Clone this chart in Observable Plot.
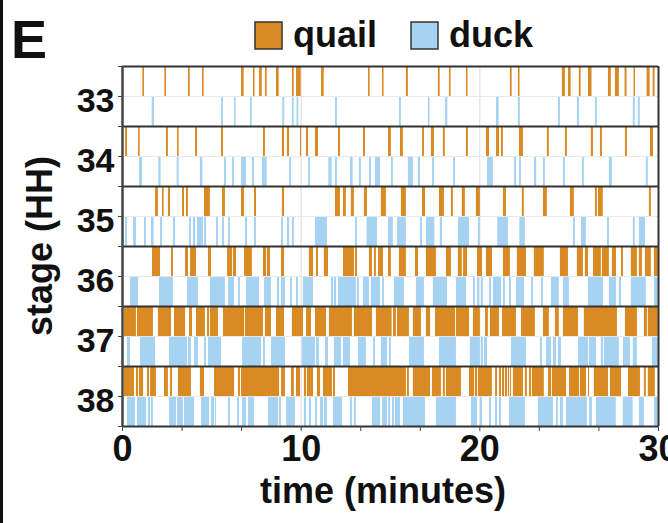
<!DOCTYPE html>
<html><head><meta charset="utf-8">
<script src="https://cdn.jsdelivr.net/npm/d3@7"></script>
<script src="https://cdn.jsdelivr.net/npm/@observablehq/plot@0.6"></script>
<style>
html,body{margin:0;padding:0;background:#fff;}
#chart{width:668px;height:523px;overflow:hidden;}
</style></head>
<body><div id="chart"></div>
<script>
const stages = ["33","34","35","36","37","38"];
const species = ["quail","duck"];
const colors = ["#DA8A22","#A7D3F2"];
const xTickLabels = [0,10,20,30];

const quail33 = [[1.14,1.23],[2.37,2.46],[3.69,3.79],[4.48,4.57],[6.66,6.81],[7.33,7.42],[7.67,7.82],[8.00,8.10],[8.62,8.77],[9.51,9.61],[9.74,10.00],[11.14,11.29],[13.77,13.86],[14.55,14.64],[15.89,16.00],[17.68,17.78],[18.30,18.39],[19.25,19.34],[21.71,21.81],[22.16,22.25],[24.62,24.79],[24.96,25.11],[25.57,25.67],[26.08,26.28],[27.20,27.36],[27.59,27.81],[28.13,28.24],[28.63,28.71],[29.36,29.53],[29.70,29.81]];
const duck33 = [[1.66,1.79],[5.54,5.65],[6.27,6.36],[7.16,7.26],[8.97,9.08],[9.51,9.61],[9.77,9.87],[11.92,12.03],[15.50,15.61],[17.12,17.21],[18.08,18.21],[20.93,21.08],[22.16,22.27],[24.40,24.51],[25.46,25.58],[26.47,26.58],[28.59,28.70],[28.87,28.98]];
const quail34 = [[0.17,0.28],[0.90,0.99],[2.46,2.57],[3.08,3.17],[4.09,4.20],[5.54,5.65],[7.89,8.00],[8.95,9.07],[9.23,9.35],[9.96,10.02],[10.30,10.41],[10.80,10.97],[12.09,12.20],[13.49,13.60],[14.89,15.05],[15.56,15.72],[16.79,16.90],[17.29,17.46],[17.96,18.07],[19.25,19.36],[20.37,20.54],[20.93,21.10],[21.21,21.32],[22.22,22.44],[23.78,23.89],[24.79,24.90],[26.24,26.36],[26.75,26.86],[28.15,28.26],[29.55,29.72]];
const duck34 = [[0.95,1.12],[2.03,2.16],[3.06,3.17],[4.36,4.50],[5.71,5.82],[6.16,6.27],[6.66,6.94],[7.27,7.39],[7.83,8.10],[9.35,9.46],[10.41,10.52],[11.55,11.73],[11.92,12.03],[12.76,12.91],[13.26,13.37],[13.82,13.93],[14.16,14.44],[15.05,15.16],[16.00,16.28],[16.56,16.68],[17.35,17.46],[18.53,18.64],[20.43,20.76],[21.94,22.05],[22.22,22.33],[23.06,23.18],[23.56,23.67],[24.68,24.79],[25.74,25.85],[27.25,27.42],[29.32,29.43]];
const quail35 = [[1.85,2.01],[2.24,2.33],[2.57,2.69],[3.36,3.47],[3.58,3.69],[4.59,4.92],[5.60,5.76],[6.66,6.83],[7.39,7.50],[8.95,9.07],[11.92,12.20],[12.37,12.53],[12.81,12.98],[13.54,13.71],[14.49,14.77],[15.61,15.89],[16.79,16.96],[17.74,18.02],[18.41,18.52],[19.02,19.19],[19.81,20.03],[21.32,21.49],[22.38,22.49],[23.56,23.78],[25.07,25.29],[26.47,26.58],[26.64,26.91],[29.49,29.60]];
const duck35 = [[0.17,0.28],[0.62,0.78],[1.23,1.34],[1.62,1.77],[2.13,2.24],[2.85,2.97],[3.75,3.86],[3.97,4.09],[4.20,4.53],[4.59,4.70],[5.26,5.37],[5.60,5.71],[5.93,6.04],[6.88,7.00],[7.39,7.50],[8.90,9.01],[9.23,9.35],[9.51,9.62],[10.80,11.47],[13.04,13.15],[13.69,14.27],[14.89,15.16],[15.39,15.89],[16.68,16.79],[17.01,17.48],[17.79,17.91],[18.80,19.42],[19.92,20.03],[21.00,21.60],[22.24,22.55],[25.24,25.35],[25.69,25.96],[27.14,27.26],[28.59,28.70],[28.93,29.27]];
const quail36 = [[1.68,2.13],[2.74,2.85],[3.53,3.69],[3.81,4.14],[4.81,4.98],[5.88,6.16],[6.21,6.38],[6.83,7.27],[7.89,8.06],[8.11,8.28],[8.90,9.07],[10.46,10.69],[10.86,10.97],[11.30,11.53],[12.37,12.98],[13.04,13.15],[13.82,13.99],[14.10,14.21],[14.33,14.61],[14.89,15.05],[15.50,15.89],[16.40,16.57],[17.01,17.57],[18.13,18.41],[18.80,19.02],[19.09,19.31],[19.87,20.15],[20.37,20.71],[21.32,21.71],[22.10,22.61],[23.05,23.61],[24.51,24.96],[25.46,25.80],[25.91,26.08],[26.36,26.80],[26.86,27.25],[27.42,27.65],[27.93,28.04],[28.48,28.82],[28.93,29.10],[29.27,29.60],[29.77,29.99]];
const duck36 = [[0.45,0.90],[2.07,2.85],[3.64,4.25],[4.92,5.76],[5.93,6.27],[6.49,6.60],[6.94,7.67],[7.95,8.34],[8.67,8.79],[8.90,9.12],[9.40,9.51],[9.74,9.85],[10.13,10.69],[11.70,11.81],[11.86,11.98],[12.09,13.09],[13.15,13.26],[13.49,13.82],[13.93,14.44],[14.55,14.66],[15.22,15.78],[16.45,16.90],[17.40,18.19],[18.69,19.25],[19.64,19.75],[19.87,19.98],[20.09,20.20],[20.54,20.65],[20.76,21.21],[21.32,21.43],[21.66,21.77],[22.05,22.50],[22.89,23.00],[23.45,23.56],[24.01,24.45],[24.68,25.01],[26.08,26.92],[27.25,27.65],[27.81,27.93],[28.48,29.32],[29.77,29.99]];
const quail37 = [[0.11,0.78],[0.84,1.73],[2.01,2.74],[2.91,3.53],[3.75,3.92],[4.14,4.64],[4.76,4.87],[4.92,5.37],[5.65,6.83],[6.88,7.89],[8.00,8.34],[8.62,9.07],[9.51,10.13],[10.30,10.58],[10.80,11.42],[11.58,12.87],[12.98,13.99],[14.21,15.09],[15.17,15.33],[15.39,16.06],[16.28,16.73],[17.01,17.24],[17.52,18.64],[18.69,19.42],[19.64,20.03],[20.32,20.48],[20.59,21.10],[21.27,22.05],[22.33,23.11],[23.56,23.89],[24.23,24.45],[24.68,25.52],[25.85,27.70],[28.15,28.82],[29.21,29.38],[29.43,29.99]];
const duck37 = [[0.28,0.45],[1.01,1.85],[2.63,3.64],[3.69,3.86],[4.03,4.25],[4.59,4.70],[4.81,5.54],[6.72,7.78],[7.89,8.00],[8.34,9.12],[10.07,10.80],[10.86,11.02],[11.36,11.53],[11.86,12.26],[12.37,12.76],[13.21,13.65],[14.05,14.16],[14.49,14.83],[14.94,15.05],[16.06,16.90],[17.74,18.69],[19.47,20.03],[20.09,20.20],[20.26,20.43],[21.77,22.61],[23.39,23.50],[23.73,24.01],[24.12,24.29],[24.40,24.57],[25.52,26.08],[26.14,26.53],[26.80,26.92],[26.97,27.81],[28.04,28.43],[28.59,28.82],[29.66,29.99]];
const quail38 = [[0.11,0.67],[0.78,0.90],[0.95,1.18],[1.40,1.51],[1.57,1.90],[2.35,2.57],[2.69,2.80],[3.13,3.86],[4.36,4.59],[5.15,6.27],[6.49,6.60],[6.66,8.79],[8.90,9.12],[9.46,9.62],[9.74,9.96],[10.18,10.30],[10.35,10.69],[10.91,11.08],[11.25,11.75],[11.81,11.92],[12.65,15.89],[15.95,16.06],[16.28,17.24],[17.35,17.85],[17.96,18.07],[18.13,18.97],[19.42,19.70],[19.75,19.87],[19.92,20.70],[20.88,20.99],[21.10,21.21],[21.27,21.38],[21.43,21.55],[21.60,21.66],[21.71,21.77],[21.88,22.44],[22.55,22.66],[22.78,22.89],[22.94,23.61],[23.84,24.01],[24.06,24.85],[25.02,25.58],[25.63,25.97],[26.08,26.14],[26.41,27.20],[27.31,27.93],[28.32,28.99],[29.21,29.32],[29.43,29.82]];
const duck38 = [[0.28,0.73],[0.84,1.34],[1.45,1.57],[1.62,1.73],[2.63,3.02],[3.08,3.41],[3.47,4.03],[4.42,4.87],[4.98,5.15],[5.20,5.26],[5.93,6.04],[6.44,6.55],[6.72,6.94],[7.05,7.39],[8.17,8.73],[8.79,8.90],[9.18,9.68],[10.18,10.30],[10.46,10.58],[10.80,10.91],[11.08,11.25],[11.30,11.47],[11.81,12.31],[12.76,12.87],[12.98,13.09],[13.99,14.44],[14.55,14.83],[14.89,15.00],[15.11,15.22],[15.27,15.56],[15.72,16.96],[17.57,18.69],[19.53,19.87],[20.03,20.15],[20.54,20.65],[20.88,20.99],[21.10,21.21],[21.66,22.55],[23.28,24.12],[24.29,24.40],[24.51,24.68],[24.85,26.02],[26.14,26.30],[26.53,27.64],[28.03,28.58],[28.93,29.21],[29.77,29.99]];

const quailByStage = [quail33, quail34, quail35, quail36, quail37, quail38];
const duckByStage = [duck33, duck34, duck35, duck36, duck37, duck38];

// build a table: one row per event
const events = [];
stages.forEach((stage, i) => {
  quailByStage[i].forEach(([a, b]) => events.push({stage, species: "quail", start: a, end: b}));
  duckByStage[i].forEach(([a, b]) => events.push({stage, species: "duck", start: a, end: b}));
});
const lane = d => stages.indexOf(d.stage) * 2 + species.indexOf(d.species);

const FONT = "'Liberation Sans', Arial, Helvetica, sans-serif";
const rowBounds = d3.range(0, stages.length * 2 + 1, 2);
const halfBounds = d3.range(1, stages.length * 2, 2);
const minorX = d3.range(0, 10).map(i => i * 10 / 3).concat([30]);

const chart = Plot.plot({
  width: 668,
  height: 523,
  marginLeft: 122,
  marginRight: 10,
  marginTop: 66,
  marginBottom: 97,
  x: {domain: [0, 30]},
  y: {domain: [0, stages.length * 2], reverse: true},
  color: {domain: species, range: colors},
  style: {fontFamily: FONT, fontWeight: "bold", fontSize: "34px", color: "#222", background: "#fff", overflow: "visible"},
  marks: [
    Plot.ruleX([10, 20], {stroke: "#dcdcdc", strokeWidth: 1}),
    Plot.rect(events, {x1: "start", x2: "end", y1: lane, y2: d => lane(d) + 1, fill: "species"}),
    Plot.ruleY(halfBounds, {stroke: "#e8e8e8", strokeWidth: 1}),
    Plot.ruleY(rowBounds, {stroke: "#333", strokeWidth: 2}),
    Plot.ruleX([30], {stroke: "#333", strokeWidth: 2}),
    Plot.ruleX([0], {stroke: "#444", strokeWidth: 2.5}),
    Plot.axisY({ticks: d3.range(0, stages.length * 2 + 1), tickSize: 4, tickFormat: () => "", label: null, stroke: "#444"}),
    Plot.axisY({ticks: halfBounds, tickSize: 0, tickPadding: 8, dy: 5, tickFormat: d => stages[(d - 1) / 2], label: null, fontSize: 34, fontWeight: "bold", fill: "#111"}),
    Plot.axisX({ticks: minorX, tickSize: 5, tickFormat: () => "", label: null, stroke: "#444"}),
    Plot.axisX({ticks: xTickLabels, tickSize: 0, tickPadding: 9, tickFormat: d => String(d), label: null, fontSize: 36, fontWeight: "bold", fill: "#111"})
  ]
});

const svg = d3.select(chart);
const addText = (x, y, size, str, anchor = "start", transform = null) => {
  const t = svg.append("text").attr("font-size", size).attr("font-weight", "bold")
    .attr("font-family", FONT).attr("fill", "#111").attr("text-anchor", anchor).text(str);
  if (transform) t.attr("transform", transform); else t.attr("x", x).attr("y", y);
  return t;
};
// panel letter
addText(11, 58, 54, "E");
// legend
const legendX = [255, 411];
const legendLabelX = [293, 449];
species.forEach((s, i) => {
  svg.append("rect").attr("x", legendX[i]).attr("y", 22).attr("width", 27).attr("height", 27)
    .attr("fill", colors[i]).attr("stroke", "#333").attr("stroke-width", 1.5);
  addText(legendLabelX[i], 47, 36, s);
});
// axis titles
addText(0, 0, 36, "stage (HH)", "middle", "translate(52,246) rotate(-90)");
addText(383, 503, 36, "time (minutes)", "middle");
// outer panel border (left edge)
svg.append("line").attr("x1", 1.5).attr("x2", 1.5).attr("y1", 0).attr("y2", 523).attr("stroke", "#111").attr("stroke-width", 3);

document.getElementById("chart").appendChild(chart);
</script>
</body></html>
